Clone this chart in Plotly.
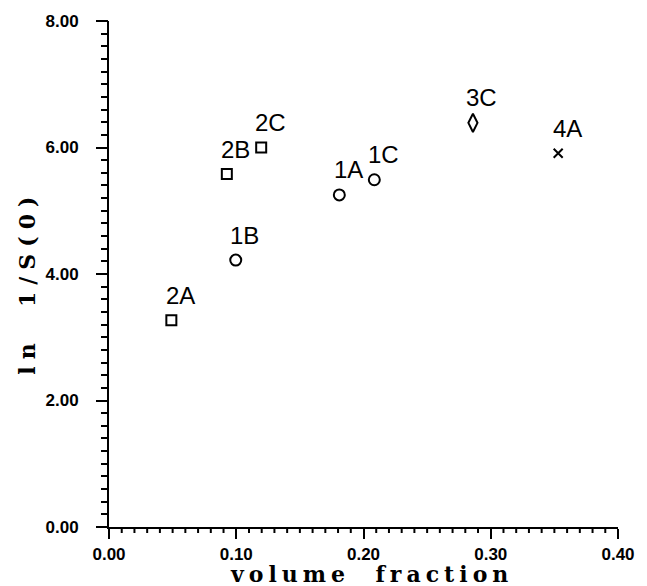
import plotly.graph_objects as go

# data
labels = ["2A", "2B", "2C", "1B", "1A", "1C", "3C", "4A"]
vol_frac = [0.049, 0.0926, 0.1196, 0.0996, 0.181, 0.2085, 0.286, 0.353]
ln_inv_s0 = [3.27, 5.58, 6.00, 4.22, 5.25, 5.49, 6.39, 5.91]
groups = ["sq", "sq", "sq", "ci", "ci", "ci", "di", "x"]

x_range = [0, 0.4]
y_range = [0, 8]
x_minor_ticks = [round(i * 0.01, 2) for i in range(1, 40) if i % 10 != 0]

symbol_map = {"sq": "square-open", "ci": "circle-open", "di": "diamond-tall-open", "x": "x-thin-open"}
size_map = {"sq": 10, "ci": 11, "di": 13, "x": 9}

fig = go.Figure()
for g in ["sq", "ci", "di", "x"]:
    xs = [x for x, gg in zip(vol_frac, groups) if gg == g]
    ys = [y for y, gg in zip(ln_inv_s0, groups) if gg == g]
    fig.add_trace(go.Scatter(
        x=xs, y=ys, mode="markers",
        marker=dict(symbol=symbol_map[g], size=size_map[g], color="black",
                    line=dict(color="black", width=2)),
        showlegend=False, hoverinfo="skip"))

# invisible copy on the overlay y axis that carries the y minor ticks
fig.add_trace(go.Scatter(x=vol_frac, y=ln_inv_s0, xaxis="x", yaxis="y2", mode="markers",
                         marker=dict(opacity=0), showlegend=False, hoverinfo="skip"))

for lab, x, y in zip(labels, vol_frac, ln_inv_s0):
    fig.add_annotation(x=x, y=y, text=lab, showarrow=False, xshift=9, yshift=25,
                       font=dict(family="Liberation Sans, Arial", size=24, color="black"))

# x minor ticks, positioned by the x scale, 6 px long below the axis
for v in x_minor_ticks:
    fig.add_shape(type="line", xref="x", x0=v, x1=v, yref="paper", ysizemode="pixel",
                  yanchor=0, y0=0, y1=-6, line=dict(color="black", width=2), layer="above")

tickfont = dict(family="Liberation Sans, Arial", size=17, color="black", weight="bold")
common = dict(showgrid=False, zeroline=False, ticks="outside", tickwidth=2, tickcolor="black")
fig.update_layout(
    xaxis=dict(range=x_range, tickmode="linear", tick0=0, dtick=0.1, tickformat=".2f",
               showline=True, linecolor="black", linewidth=2, ticklen=10,
               tickfont=tickfont, ticklabelstandoff=1, **common),
    yaxis=dict(range=y_range, tickmode="linear", tick0=0, dtick=2, tickformat=".2f",
               showline=True, linecolor="black", linewidth=2, ticklen=11,
               tickfont=tickfont, ticklabelstandoff=14, **common),
    yaxis2=dict(range=y_range, overlaying="y", anchor="x", side="left", tickmode="linear",
                tick0=0, dtick=0.2, ticklen=7, showticklabels=False, showline=False, **common),
)

tfont = dict(family="DejaVu Serif", size=22, color="black", weight="bold")
fig.add_annotation(xref="paper", yref="paper", x=0.515, y=-0.093, yanchor="middle",
                   text='<span style="letter-spacing:5px">volume  fraction</span>',
                   showarrow=False, font=tfont)
fig.add_annotation(xref="paper", yref="paper", x=-0.16, y=0.484, xanchor="center",
                   text='<span style="letter-spacing:7px">ln  1/S(0)</span>', textangle=-90,
                   showarrow=False, font=tfont)

fig.update_layout(width=647, height=586, margin=dict(l=109, r=20, t=21, b=59),
                  plot_bgcolor="white", paper_bgcolor="white")
fig.write_html("out.html")
